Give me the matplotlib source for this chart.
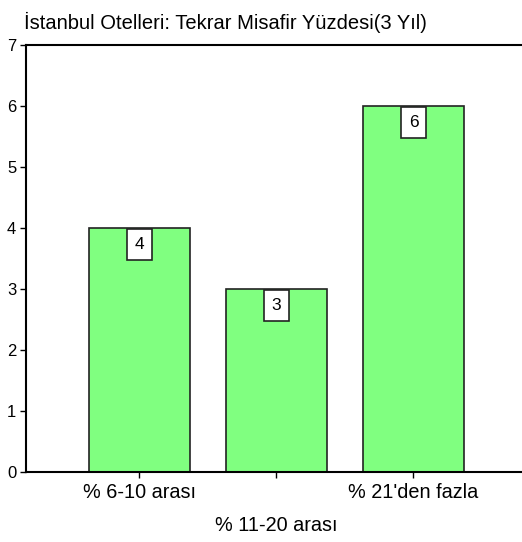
import numpy as np
import matplotlib
matplotlib.use("Agg")
import matplotlib.pyplot as plt

plt.rcParams['font.family'] = ['Liberation Sans', 'DejaVu Sans']

# categories and counts
categories = ["% 6-10 arası", "% 11-20 arası", "% 21'den fazla"]
counts = [4, 3, 6]
title = "İstanbul Otelleri: Tekrar Misafir Yüzdesi(3 Yıl)"

fig = plt.figure(figsize=(5.22, 5.42), dpi=100)
ax = fig.add_axes([0.0498, 0.1292, 0.9502, 0.7878])

x = np.arange(len(categories))
bars = ax.bar(x, counts, width=0.737, color='#80ff80', edgecolor='#222222', linewidth=1.2)

# boxed value labels hanging just below each bar top
for xi, v in zip(x, counts):
    ax.annotate(str(v), (xi, v), xytext=(0, -12), textcoords='offset points',
                ha='center', va='center', fontsize=12.5,
                bbox=dict(boxstyle='square,pad=0.45', fc='white', ec='#222222', lw=1.2))

ax.set_xlim(-0.828, 2.792)
ax.set_ylim(0, 7)
ax.set_yticks(range(0, 8))
ax.tick_params(axis='y', direction='out', length=4, width=1, labelsize=12, pad=3)
ax.tick_params(axis='x', direction='out', length=4, width=1, labelsize=14.3, pad=4)

# stagger the middle label onto a second line
labels = [c if i % 2 == 0 else "\n" + c for i, c in enumerate(categories)]
ax.set_xticks(x)
ax.set_xticklabels(labels, linespacing=1.95)

ax.spines['right'].set_visible(False)
for s in ['left', 'bottom', 'top']:
    ax.spines[s].set_linewidth(1.5)

fig.text(24 / 522, 1 - 22 / 542, title, fontsize=14.5, ha='left', va='center')

fig.savefig("out.png", dpi=100)
